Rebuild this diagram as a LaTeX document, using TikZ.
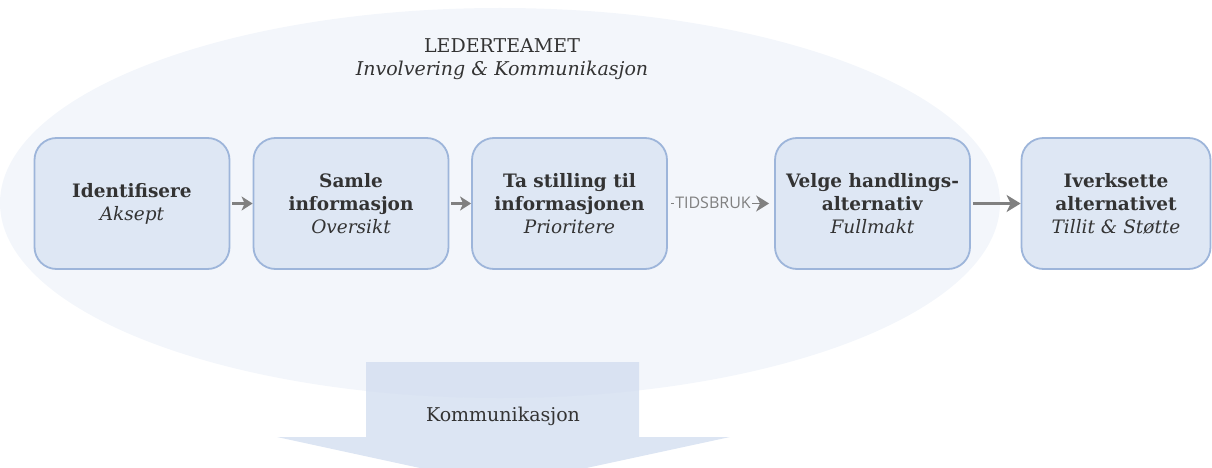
\documentclass[tikz,border=0pt]{standalone}
\usepackage{fontspec}
\setmainfont{DejaVu Serif}
\newfontfamily\labelsans{Open Sans}
\usetikzlibrary{arrows.meta}
\definecolor{ellfill}{HTML}{F3F6FB}
\definecolor{boxfill}{HTML}{DEE7F4}
\definecolor{boxline}{HTML}{9DB5DA}
\definecolor{txt}{HTML}{333333}
\definecolor{arr}{HTML}{808080}
\definecolor{bigarrow}{HTML}{D3DEF0}
\begin{document}
\begin{tikzpicture}[x=1pt,y=-1pt,
  stepbox/.style={draw=boxline, line width=1.8pt, fill=boxfill,
    rounded corners=22pt, minimum width=195pt, minimum height=131pt,
    align=center, text=txt, inner sep=0pt,
    font=\fontsize{18.5}{23}\selectfont},
  flow/.style={draw=arr, line width=3pt,
    -{Stealth[length=14pt,width=17pt,inset=4pt]}},
  caption/.style={text=txt, align=center, font=\fontsize{19}{22.5}\selectfont}]
\useasboundingbox (0,0) rectangle (1212,468);
\clip (0,0) rectangle (1212,468);

% team ellipse
\fill[ellfill] (500,203) ellipse [x radius=500, y radius=195];
\node[caption] (title) at (502,59) {LEDERTEAMET\\\textit{Involvering \& Kommunikasjon}};

% downward communication arrow
\fill[bigarrow, opacity=0.8] (366,362) -- (639,362) -- (639,437) -- (730,437)
  -- (503,486) -- (277,437) -- (366,437) -- cycle;
\node[caption] (comm) at (503,416) {Kommunikasjon};

% process steps
\node[stepbox] (s1) at (132,203.5) {\textbf{Identifisere}\\\textit{Aksept}};
\node[stepbox] (s2) at (351,203.5) {\textbf{Samle}\\\textbf{informasjon}\\\textit{Oversikt}};
\node[stepbox] (s3) at (569.5,203.5) {\textbf{Ta stilling til}\\\textbf{informasjonen}\\\textit{Prioritere}};
\node[stepbox] (s4) at (872.5,203.5) {\textbf{Velge handlings-}\\\textbf{alternativ}\\\textit{Fullmakt}};
\node[stepbox, minimum width=189pt] (s5) at (1116,203.5) {\textbf{Iverksette}\\\textbf{alternativet}\\\textit{Tillit \& Støtte}};

% connectors
\draw[flow, -{Stealth[length=11pt,width=14pt,inset=3pt]}, shorten <=2pt] (s1) -- (s2);
\draw[flow, -{Stealth[length=11pt,width=14pt,inset=3pt]}, shorten <=2pt] (s2) -- (s3);
\draw[flow, line width=1.5pt, -{Stealth[length=13pt,width=16pt,inset=4pt,line width=3pt]},
  shorten <=3pt, shorten >=5pt] (s3) -- node[fill=ellfill, inner sep=1pt, text=arr,
  font=\labelsans\fontsize{16}{16}\selectfont, xshift=-8pt, yshift=1pt] (tid) {TIDSBRUK} (s4);
\draw[flow, shorten <=2pt] (s4) -- (s5);
\end{tikzpicture}
\end{document}
